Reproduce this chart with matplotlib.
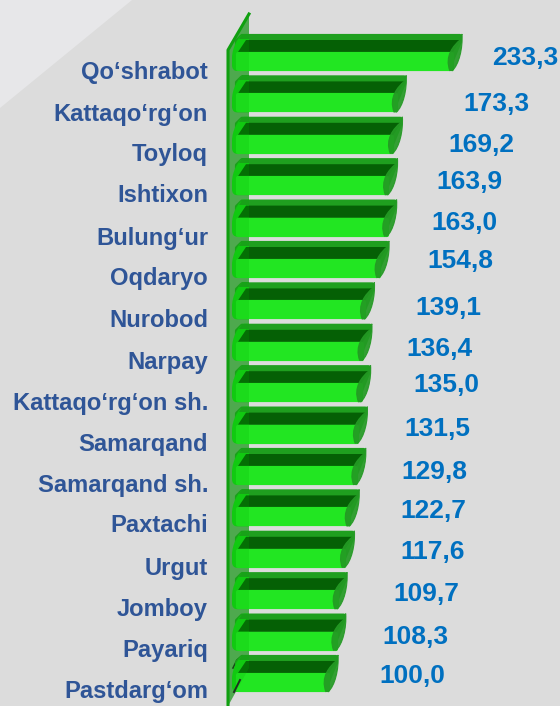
import matplotlib
matplotlib.use("Agg")
import matplotlib.pyplot as plt
from matplotlib.patches import Polygon, PathPatch
from matplotlib.path import Path

categories = ["Qo‘shrabot", "Kattaqo‘rg‘on", "Toyloq", "Ishtixon", "Bulung‘ur", "Oqdaryo",
              "Nurobod", "Narpay", "Kattaqo‘rg‘on sh.", "Samarqand", "Samarqand sh.",
              "Paxtachi", "Urgut", "Jomboy", "Payariq", "Pastdarg‘om"]
values = [233.3, 173.3, 169.2, 163.9, 163.0, 154.8, 139.1, 136.4, 135.0, 131.5,
          129.8, 122.7, 117.6, 109.7, 108.3, 100.0]
value_labels = ["233,3", "173,3", "169,2", "163,9", "163,0", "154,8", "139,1", "136,4",
                "135,0", "131,5", "129,8", "122,7", "117,6", "109,7", "108,3", "100,0"]
# hand-placed label positions from the original slide (pixels)
value_label_x = [492, 463, 448, 436, 431, 427, 415, 406, 413, 404, 401, 400, 400, 393, 382, 379]
value_label_y = [58, 104, 145, 182, 223, 261, 308, 349, 385, 429, 472, 511, 552, 594, 637, 676]
cat_label_y = [73, 114, 155, 196, 238, 279, 320, 362, 403, 444, 485, 526, 568, 609, 650, 691]

W, H = 560, 706
X0, XS = 245.0, 0.93       # px of zero, px per unit
Y0, YS = 53.0, 41.4        # px of first row, px per row

fig = plt.figure(figsize=(W / 100, H / 100), dpi=100, facecolor="#dcdcdc")
ax = fig.add_axes([0, 0, 1, 1])
ax.set_xlim(-X0 / XS, (W - X0) / XS)
ax.set_ylim((H - Y0) / YS, -Y0 / YS)
ax.axis("off")

def dx(px):
    return px / XS
def dy(px):
    return px / YS
def P(px, py):
    return ((px - X0) / XS, (py - Y0) / YS)

FONT = "Liberation Sans"
ax.add_patch(Polygon([P(0, 0), P(132, 0), P(0, 108)], fc="#e7e7e9", ec="none", zorder=0))

# wall, behind the bars
wall = [P(228, 50), P(249, 14), P(249, 668), P(228, 706)]
ax.add_patch(Polygon(wall, fc="#62a862", ec="none", zorder=1))

for i, v in enumerate(values):
    # body + top surface (round joins give the soft cylinder corners)
    ax.add_patch(Polygon([(dx(-8), i - dy(12)), (dx(-3), i - dy(17)), (v - dx(2), i - dy(17)),
                          (v - dx(2), i - dy(12)), (v - dx(13), i + dy(15)), (dx(-8), i + dy(15))],
                         fc="#1f9f1f", ec="#1f9f1f", lw=3, joinstyle="round", zorder=2))
    # rounded left end of the cylinder
    left_end = Path([(dx(4), i - dy(19)), (dx(-1), i - dy(19)), (dx(-7), i - dy(17)), (dx(-13), i - dy(5)), (dx(-13), i + dy(5)),
                     (dx(-13), i + dy(12)), (dx(-13), i + dy(16)), (dx(-11), i + dy(18)), (dx(-8), i + dy(18)),
                     (dx(4), i + dy(18)), (dx(4), i - dy(19))],
                    [Path.MOVETO, Path.LINETO, Path.CURVE4, Path.CURVE4, Path.CURVE4,
                     Path.LINETO, Path.CURVE4, Path.CURVE4, Path.CURVE4,
                     Path.LINETO, Path.CLOSEPOLY])
    ax.add_patch(PathPatch(left_end, fc="#16d016", ec="none", zorder=2.2))
    # top strip over the left end
    ax.add_patch(Polygon([(dx(-3), i - dy(19)), (dx(4), i - dy(19)), (dx(4), i - dy(14)), (dx(-6), i - dy(14))],
                         fc="#1f9f1f", ec="none", zorder=2.4))
    # dark inner band
    ax.add_patch(Polygon([(dx(-7), i - dy(1)), (dx(1), i - dy(13)), (v - dx(1), i - dy(13)), (v - dx(9), i - dy(1))],
                         fc="#056005", ec="none", zorder=3))
    # bright front face
    ax.barh(i + dy(8.5), v + dx(-3), height=dy(15), left=dx(-7), color="#22e622", edgecolor="#22e622",
            linewidth=3, joinstyle="round", zorder=3)
    # end cap
    cap = Path([(v - dx(12), i + dy(18)), (v - dx(18), i + dy(3)), (v - dx(8), i - dy(8)), (v - dx(2), i - dy(13)),
                (v, i - dy(19)), (v + dx(1), i - dy(5)), (v - dx(3), i + dy(12)), (v - dx(10), i + dy(18))],
               [Path.MOVETO, Path.CURVE4, Path.CURVE4, Path.CURVE4,
                Path.LINETO, Path.CURVE4, Path.CURVE4, Path.CURVE4])
    ax.add_patch(PathPatch(cap, fc="#249a24", ec="#249a24", lw=0.8, alpha=0.92, zorder=4))

# wall overlay (translucent over the bars) and its front edge
ax.add_patch(Polygon(wall, fc="#00b000", ec="none", alpha=0.2, zorder=5))
ax.plot(*zip(P(228, 706), P(228, 50), P(249, 14)), color="#10a010", lw=2.2, zorder=6)
ax.plot(*zip(P(234, 692), P(240, 680)), color="#203020", lw=1.4, zorder=6)
ax.plot(*zip(P(233, 668), P(237, 660), P(242, 656)), color="#203020", lw=1.2, zorder=1.5)

for name, py in zip(categories, cat_label_y):
    ax.text(*P(208, py), name, ha="right", va="center", family=FONT, weight="bold",
            fontsize=17.1, color="#2f5597")
for lab, px, py in zip(value_labels, value_label_x, value_label_y):
    ax.text(*P(px, py), lab, ha="left", va="center", family=FONT, weight="bold",
            fontsize=19, color="#0070c0")

fig.savefig("out.png", dpi=100, facecolor=fig.get_facecolor())
